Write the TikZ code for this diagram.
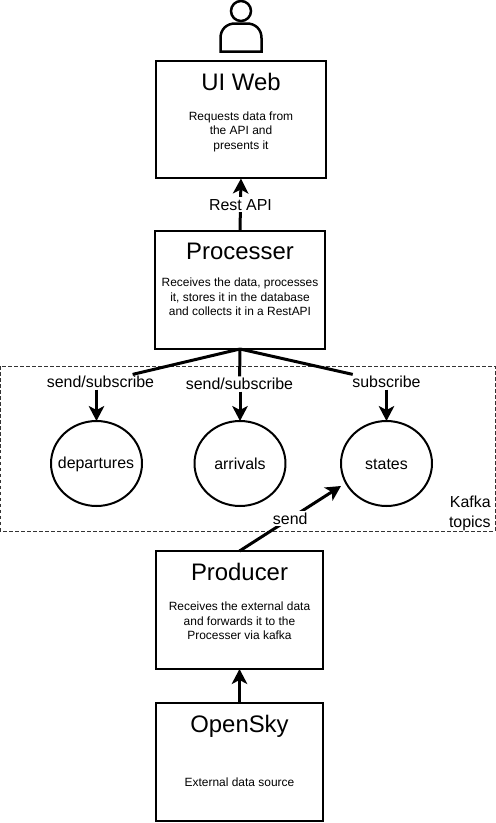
\documentclass[tikz,border=0pt]{standalone}
\usepackage{fontspec}
\setmainfont{Liberation Sans}
\usetikzlibrary{arrows.meta,shapes.geometric}
\tikzset{
  thin line/.style={line width=0.04cm},
  box/.style={draw,thin line,minimum width=3.4cm,minimum height=2.36cm,outer sep=0pt},
  title/.style={font=\fontsize{13.6}{16}\selectfont,inner sep=0pt},
  info/.style={font=\fontsize{6.8}{8.2}\selectfont,align=center,inner sep=0pt},
  topic/.style={draw,ellipse,thin line,minimum width=1.82cm,minimum height=1.7cm,inner sep=0pt,outer sep=0pt},
  topicname/.style={font=\fontsize{9.07}{11}\selectfont,inner sep=0pt},
  link/.style={line width=0.06cm},
  linkarrow/.style={link,-{Stealth[length=0.3cm,width=0.31cm,inset=0.08cm]}},
  linklabel/.style={fill=white,font=\fontsize{9.07}{11}\selectfont,inner sep=1pt,outer sep=0pt}
}
\begin{document}
\begin{tikzpicture}[x=0.02cm,y=-0.02cm]
  \useasboundingbox (0,0) rectangle (496,823);
  \draw[dash pattern=on 0.07cm off 0.05cm,line width=0.02cm,black!80] (0.5,366) rectangle (495,531);
  \node[anchor=south east,align=right,inner sep=0pt,font=\fontsize{9.07}{11.3}\selectfont] (kafka) at (491,531) {Kafka\\topics};
  % person
  \draw[line width=0.05cm,fill=white] (220.5,51.5) -- (220.5,38) .. controls (220.5,29) and (227,23.5) .. (235,23.5) -- (247,23.5) .. controls (255,23.5) and (261.5,29) .. (261.5,38) -- (261.5,51.5) -- cycle;
  \draw[line width=0.05cm,fill=white] (241,11) circle (10);
  % boxes
  \node[box] (uiweb) at (241,119.5) {};
  \node[box] (processer) at (240,290) {};
  \node[box,minimum width=3.34cm] (producer) at (239.5,610) {};
  \node[box,minimum width=3.34cm] (opensky) at (239.5,762) {};
  \node[title] (uiwebtitle) at (241,82) {UI Web};
  \node[title] (processertitle) at (240,251) {Processer};
  \node[title] (producertitle) at (239.5,572) {Producer};
  \node[title] (openskytitle) at (239.5,726) {OpenSky};
  \node[info] (uiwebinfo) at (241,131.5) {Requests data from\\the API and\\presents it};
  \node[info] (processerinfo) at (240,297) {Receives the data, processes\\it, stores it in the database\\and collects it in a RestAPI};
  \node[info] (producerinfo) at (239.5,621) {Receives the external data\\and forwards it to the\\Processer via kafka};
  \node[info] (openskyinfo) at (239.5,782) {External data source};
  % topics
  \node[topic] (departures) at (96.5,463.5) {};
  \node[topic] (arrivals) at (240,463.5) {};
  \node[topic] (states) at (386.5,463.5) {};
  \node[topicname] (departuresname) at (96,464) {departures};
  \node[topicname] (arrivalsname) at (240,464) {arrivals};
  \node[topicname] (statesname) at (386.5,464) {states};
  \node[linklabel] (departureslabel) at (100.5,382) {send/subscribe};
  \node[linklabel] (arrivalslabel) at (239.5,384) {send/subscribe};
  \node[linklabel] (stateslabel) at (386.5,382) {subscribe};
  \coordinate (statesin) at (341,486);
  % connectors
  \draw[linkarrow] (processer.north) -- node[linklabel] (restapi) {Rest API} (uiweb.south);
  \draw[linkarrow] (opensky.north) -- (producer.south);
  \draw[linkarrow] (producer.north) -- node[linklabel] (sendlabel) {send} (statesin);
  \draw[link] (processer.south) -- (departureslabel);
  \draw[link] (processer.south) -- (arrivalslabel);
  \draw[link] (processer.south) -- (stateslabel);
  \draw[linkarrow] (departures.north |- departureslabel.south) -- (departures.north);
  \draw[linkarrow] (arrivals.north |- arrivalslabel.south) -- (arrivals.north);
  \draw[linkarrow] (states.north |- stateslabel.south) -- (states.north);
\end{tikzpicture}
\end{document}
